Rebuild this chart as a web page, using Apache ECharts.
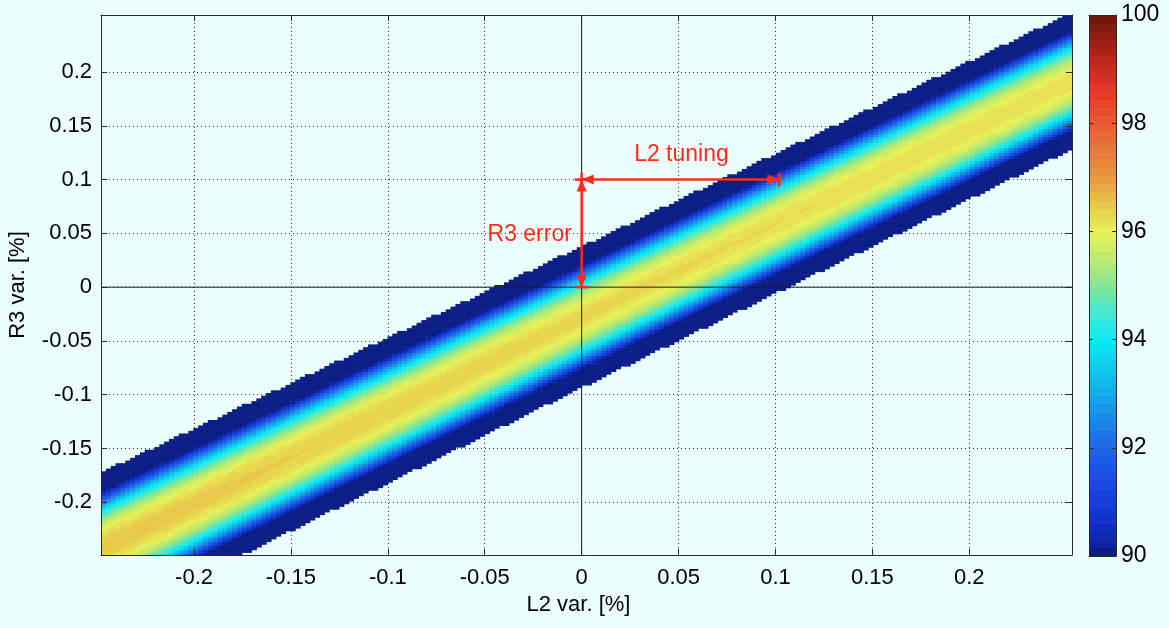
<!DOCTYPE html>
<html>
<head>
<meta charset="utf-8">
<script src="https://cdn.jsdelivr.net/npm/echarts@6/dist/echarts.min.js"></script>
<style>
html, body { margin: 0; padding: 0; background: #ebfdfd; }
#chart { width: 1169px; height: 628px; }
</style>
</head>
<body>
<div id="chart"></div>
<script>
// ---------------- data ----------------
const xTicks = [-0.2, -0.15, -0.1, -0.05, 0, 0.05, 0.1, 0.15, 0.2];
const yTicks = [-0.2, -0.15, -0.1, -0.05, 0, 0.05, 0.1, 0.15, 0.2];
const colorbarTicks = [90, 92, 94, 96, 98, 100];
const xRange = [-0.248, 0.253];
const yRange = [-0.249, 0.253];
const cellCount = [200, 200];
const colorRange = [90, 100];
const colorLevels = 64;
// band edges (R3 var.) at several L2 var. positions
const bandX = [-0.25, 0, 0.25];
const bandTop = [-0.174, 0.038, 0.253];
const bandBottom = [-0.315, -0.093, 0.126];
// value on the band's centre line at bandX
const bandPeak = [96.5, 96.3, 96.2];
// drop of the value from the centre line vs. relative distance to the band edge
const profileU = [0, 0.1, 0.2, 0.3, 0.4, 0.5, 0.6, 0.7, 0.8, 0.9, 1.0];
const profileDrop = [0, 0.05, 0.3, 0.75, 1.5, 2.5, 3.9, 5.7, 7.3, 8.8, 10.3];
// annotations
const arrowFrom = [[0, 0.1], [0, 0.1]];
const arrowTo = [[0.102, 0.1], [0, 0]];
const labelText = ['L2 tuning', 'R3 error'];
const labelPos = [[0.0515, 0.1228], [-0.0268, 0.0484]];
const zeroLines = [['x', 0], ['y', 0]];

// ---------------- styling ----------------
const FONT = '"Liberation Sans", Arial, Helvetica, sans-serif';
const RED = '#ff2b16';
const AXIS_COLOR = '#2a2a2a';
const cmapStops = [
  [0.00, [12, 28, 125]], [0.05, [15, 45, 190]], [0.10, [20, 60, 220]],
  [0.20, [30, 100, 232]], [0.30, [20, 170, 232]], [0.40, [10, 235, 245]],
  [0.45, [70, 232, 210]], [0.50, [130, 230, 150]], [0.55, [190, 235, 110]],
  [0.60, [232, 240, 88]], [0.65, [232, 200, 75]], [0.70, [232, 150, 62]],
  [0.80, [232, 92, 50]], [0.86, [232, 55, 40]], [0.93, [175, 35, 25]],
  [1.00, [110, 20, 10]]
];

function interp(xs, ys, x) {
  let i = 0;
  if (x <= xs[0]) i = 0;
  else if (x >= xs[xs.length - 1]) i = xs.length - 2;
  else { while (x > xs[i + 1]) i++; }
  const t = (x - xs[i]) / (xs[i + 1] - xs[i]);
  return ys[i] + t * (ys[i + 1] - ys[i]);
}
function cmapAt(t) {
  let i = 0;
  while (i < cmapStops.length - 2 && t > cmapStops[i + 1][0]) i++;
  const a = cmapStops[i], b = cmapStops[i + 1];
  const f = Math.max(0, Math.min(1, (t - a[0]) / (b[0] - a[0])));
  const c = a[1].map((v, k) => Math.round(v + f * (b[1][k] - v)));
  return 'rgb(' + c.join(',') + ')';
}
const palette = [];
for (let k = 0; k < colorLevels; k++) palette.push(cmapAt((k + 0.5) / colorLevels));
function colorIndex(v) {
  const k = Math.floor((v - colorRange[0]) / (colorRange[1] - colorRange[0]) * colorLevels);
  return Math.max(0, Math.min(colorLevels - 1, k));
}

// ---------------- build heatmap cells ----------------
const dx = (xRange[1] - xRange[0]) / cellCount[0];
const dy = (yRange[1] - yRange[0]) / cellCount[1];
const cells = [];
for (let i = 0; i < cellCount[0]; i++) {
  const xc = xRange[0] + (i + 0.5) * dx;
  const top = interp(bandX, bandTop, xc);
  const bot = interp(bandX, bandBottom, xc);
  const mid = (top + bot) / 2, half = (top - bot) / 2;
  const peak = interp(bandX, bandPeak, xc);
  for (let j = 0; j < cellCount[1]; j++) {
    const yc = yRange[0] + (j + 0.5) * dy;
    const u = Math.abs(yc - mid) / half;
    if (u > 1) continue;
    const v = Math.max(colorRange[0], peak - interp(profileU, profileDrop, u));
    cells.push([xc, yc, v]);
  }
}
const colorbarData = [];
for (let k = 0; k < colorLevels; k++) {
  const lo = colorRange[0] + k * (colorRange[1] - colorRange[0]) / colorLevels;
  const hi = colorRange[0] + (k + 1) * (colorRange[1] - colorRange[0]) / colorLevels;
  colorbarData.push([lo, hi, k]);
}
const arrowData = arrowFrom.map((p, i) => [p[0], p[1], arrowTo[i][0], arrowTo[i][1]]);
const labelData = labelPos.map((p, i) => [p[0], p[1], labelText[i]]);

// ---------------- chart ----------------
const chart = echarts.init(document.getElementById('chart'), null, { renderer: 'canvas' });
const mainGrid = { left: 101, top: 15, width: 971, height: 540, outerBoundsMode: 'none', containLabel: false };
const axisLineStyle = { color: AXIS_COLOR, width: 1 };
const labelStyle = { fontFamily: FONT, fontSize: 22, color: '#000' };

function arrowHead(tip, dir, len, hw) {
  const bx = tip[0] - dir[0] * len, by = tip[1] - dir[1] * len;
  const nx = -dir[1], ny = dir[0];
  return [[tip[0], tip[1]], [bx + nx * hw, by + ny * hw], [bx - nx * hw, by - ny * hw]];
}

const option = {
  backgroundColor: '#ebfdfd',
  animation: false,
  grid: [
    Object.assign({}, mainGrid),
    Object.assign({}, mainGrid),
    { left: 1089, top: 15, width: 27, height: 541, outerBoundsMode: 'none', containLabel: false }
  ],
  xAxis: [
    { gridIndex: 0, type: 'value', min: xRange[0], max: xRange[1],
      axisLine: { show: false, onZero: false }, axisTick: { show: false, customValues: xTicks },
      axisLabel: { show: false, customValues: xTicks },
      splitLine: { show: true, lineStyle: { color: '#333', width: 1, type: [1, 3] } } },
    { gridIndex: 1, type: 'value', position: 'bottom', min: xRange[0], max: xRange[1], z: 5,
      axisLine: { show: true, onZero: false, lineStyle: axisLineStyle },
      axisTick: { show: true, inside: true, length: 6, customValues: xTicks, lineStyle: axisLineStyle },
      axisLabel: Object.assign({ customValues: xTicks, margin: 12, showMinLabel: true, showMaxLabel: true }, labelStyle),
      splitLine: { show: false },
      name: 'L2 var. [%]', nameLocation: 'middle', nameGap: 39,
      nameTextStyle: Object.assign({ padding: [0, 16, 0, 0] }, labelStyle) },
    { gridIndex: 1, type: 'value', position: 'top', min: xRange[0], max: xRange[1], z: 5,
      axisLine: { show: true, onZero: false, lineStyle: axisLineStyle },
      axisTick: { show: true, inside: true, length: 6, customValues: xTicks, lineStyle: axisLineStyle },
      axisLabel: { show: false, customValues: xTicks }, splitLine: { show: false } },
    { gridIndex: 2, type: 'value', position: 'bottom', min: 0, max: 1, z: 5,
      axisLine: { show: true, onZero: false, lineStyle: axisLineStyle },
      axisTick: { show: false }, axisLabel: { show: false }, splitLine: { show: false } },
    { gridIndex: 2, type: 'value', position: 'top', min: 0, max: 1, z: 5,
      axisLine: { show: true, onZero: false, lineStyle: axisLineStyle },
      axisTick: { show: false }, axisLabel: { show: false }, splitLine: { show: false } }
  ],
  yAxis: [
    { gridIndex: 0, type: 'value', min: yRange[0], max: yRange[1],
      axisLine: { show: false, onZero: false }, axisTick: { show: false, customValues: yTicks },
      axisLabel: { show: false, customValues: yTicks },
      splitLine: { show: true, lineStyle: { color: '#333', width: 1, type: [1, 3] } } },
    { gridIndex: 1, type: 'value', position: 'left', min: yRange[0], max: yRange[1], z: 5,
      axisLine: { show: true, onZero: false, lineStyle: axisLineStyle },
      axisTick: { show: true, inside: true, length: 6, customValues: yTicks, lineStyle: axisLineStyle },
      axisLabel: Object.assign({ customValues: yTicks, margin: 9 }, labelStyle),
      splitLine: { show: false },
      name: 'R3 var. [%]', nameLocation: 'middle', nameGap: 72, nameRotate: 90,
      nameTextStyle: labelStyle },
    { gridIndex: 1, type: 'value', position: 'right', min: yRange[0], max: yRange[1], z: 5,
      axisLine: { show: true, onZero: false, lineStyle: axisLineStyle },
      axisTick: { show: true, inside: true, length: 6, customValues: yTicks, lineStyle: axisLineStyle },
      axisLabel: { show: false, customValues: yTicks }, splitLine: { show: false } },
    { gridIndex: 2, type: 'value', position: 'left', min: colorRange[0], max: colorRange[1], interval: 2, z: 5,
      axisLine: { show: true, onZero: false, lineStyle: axisLineStyle },
      axisTick: { show: true, inside: true, length: 4, lineStyle: axisLineStyle },
      axisLabel: { show: false }, splitLine: { show: false } },
    { gridIndex: 2, type: 'value', position: 'right', min: colorRange[0], max: colorRange[1], interval: 2, z: 5,
      axisLine: { show: true, onZero: false, lineStyle: axisLineStyle },
      axisTick: { show: true, inside: true, length: 4, lineStyle: axisLineStyle },
      axisLabel: Object.assign({ margin: 5, customValues: colorbarTicks }, labelStyle, { fontSize: 23 }),
      splitLine: { show: false } }
  ],
  series: [
    {
      name: 'efficiency', type: 'custom', xAxisIndex: 0, yAxisIndex: 0, z: 2, silent: true,
      data: cells, dimensions: ['x', 'y', 'value'], encode: { x: 0, y: 1 },
      renderItem: function (params, api) {
        const x = api.value(0), y = api.value(1), v = api.value(2);
        const p1 = api.coord([x - dx / 2, y + dy / 2]);
        const p2 = api.coord([x + dx / 2, y - dy / 2]);
        return { type: 'rect',
          shape: { x: p1[0], y: p1[1], width: p2[0] - p1[0] + 0.6, height: p2[1] - p1[1] + 0.6 },
          style: { fill: palette[colorIndex(v)] } };
      }
    },
    {
      name: 'zero lines', type: 'custom', xAxisIndex: 0, yAxisIndex: 0, z: 6, silent: true,
      data: zeroLines, encode: { x: 1 },
      renderItem: function (params, api) {
        const item = zeroLines[params.dataIndex];
        let a, b;
        if (item[0] === 'x') { a = api.coord([item[1], yRange[0]]); b = api.coord([item[1], yRange[1]]); }
        else { a = api.coord([xRange[0], item[1]]); b = api.coord([xRange[1], item[1]]); }
        return { type: 'line', shape: { x1: a[0], y1: a[1], x2: b[0], y2: b[1] },
          style: { stroke: '#1e1e1e', lineWidth: 1 } };
      }
    },
    {
      name: 'arrows', type: 'custom', xAxisIndex: 0, yAxisIndex: 0, z: 8, silent: true,
      data: arrowData, encode: { x: [0, 2], y: [1, 3] },
      renderItem: function (params, api) {
        const a = api.coord([api.value(0), api.value(1)]);
        const b = api.coord([api.value(2), api.value(3)]);
        const L = Math.hypot(b[0] - a[0], b[1] - a[1]);
        const d = [(b[0] - a[0]) / L, (b[1] - a[1]) / L];
        const n = [-d[1], d[0]];
        const barHalf = 7;
        const children = [
          { type: 'line', shape: { x1: a[0], y1: a[1], x2: b[0], y2: b[1] }, style: { stroke: RED, lineWidth: 2.5 } },
          { type: 'polygon', shape: { points: arrowHead(b, d, 12, 5) }, style: { fill: RED } },
          { type: 'polygon', shape: { points: arrowHead(a, [-d[0], -d[1]], 12, 5) }, style: { fill: RED } },
          { type: 'line', shape: { x1: b[0] + n[0] * barHalf, y1: b[1] + n[1] * barHalf, x2: b[0] - n[0] * barHalf, y2: b[1] - n[1] * barHalf }, style: { stroke: RED, lineWidth: 2.5 } },
          { type: 'line', shape: { x1: a[0] + n[0] * barHalf, y1: a[1] + n[1] * barHalf, x2: a[0] - n[0] * barHalf, y2: a[1] - n[1] * barHalf }, style: { stroke: RED, lineWidth: 2.5 } }
        ];
        return { type: 'group', children: children };
      }
    },
    {
      name: 'labels', type: 'custom', xAxisIndex: 0, yAxisIndex: 0, z: 9, silent: true,
      data: labelData, encode: { x: 0, y: 1 },
      renderItem: function (params, api) {
        const p = api.coord([api.value(0), api.value(1)]);
        return { type: 'text', x: p[0], y: p[1],
          style: { text: labelText[params.dataIndex], fill: RED, font: '23px ' + FONT, align: 'center', verticalAlign: 'middle' } };
      }
    },
    {
      name: 'colorbar', type: 'custom', xAxisIndex: 3, yAxisIndex: 3, z: 2, silent: true,
      data: colorbarData, encode: { y: [0, 1] },
      renderItem: function (params, api) {
        const lo = api.value(0), hi = api.value(1), k = api.value(2);
        const p1 = api.coord([0, hi]);
        const p2 = api.coord([1, lo]);
        return { type: 'rect',
          shape: { x: p1[0], y: p1[1], width: p2[0] - p1[0], height: p2[1] - p1[1] + 0.5 },
          style: { fill: palette[k] } };
      }
    }
  ]
};
chart.setOption(option);
</script>
</body>
</html>
